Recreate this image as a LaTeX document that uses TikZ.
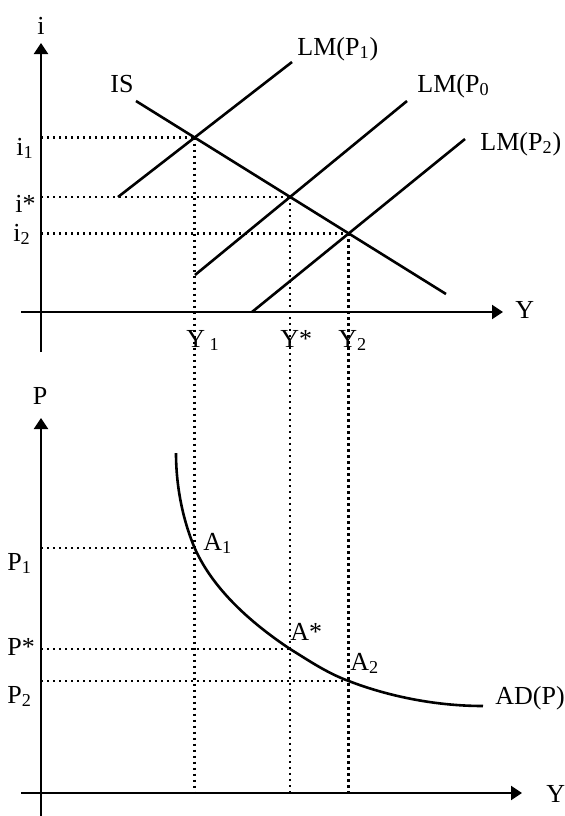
\documentclass[tikz,border=0pt]{standalone}
\usepackage{fontspec}
\setmainfont{Liberation Serif}
\usetikzlibrary{arrows.meta}
\begin{document}
\begin{tikzpicture}[x=0.5pt,y=-0.5pt,
  axisline/.style={line width=1.05pt,-{Triangle[length=5.5pt,width=7pt]}},
  curveline/.style={line width=1.3pt},
  guide/.style={line width=1.25pt,dash pattern=on 1.2pt off 1.8pt},
  lbl/.style={inner sep=0pt,anchor=base west,font=\fontsize{13}{15}\selectfont}]
\useasboundingbox (0,0) rectangle (565,816);
% ---------- coordinates, upper panel ----------
\coordinate (O1) at (41,312);
\coordinate (yb1) at (41,352);
\coordinate (yt1) at (41,43);
\coordinate (xl1) at (21,312);
\coordinate (xr1) at (503,312);
\coordinate (IS1) at (136,101);
\coordinate (IS2) at (446,294);
\coordinate (La1) at (118,197);
\coordinate (La2) at (292,62);
\coordinate (Lb1) at (195,275);
\coordinate (Lb2) at (407,101);
\coordinate (Lc1) at (252,312);
\coordinate (Lc2) at (465,139);
\coordinate (E1) at (intersection of IS1--IS2 and La1--La2);
\coordinate (E0) at (intersection of IS1--IS2 and Lb1--Lb2);
\coordinate (E2) at (intersection of IS1--IS2 and Lc1--Lc2);
% ---------- coordinates, lower panel ----------
\coordinate (O2) at (41,793);
\coordinate (yb2) at (41,816);
\coordinate (yt2) at (41,418);
\coordinate (xl2) at (21,793);
\coordinate (xr2) at (522,793);
\coordinate (h1) at (0,548);
\coordinate (h0) at (0,649);
\coordinate (h2) at (0,681);
\coordinate (A1) at (E1 |- h1);
\coordinate (As) at (E0 |- h0);
\coordinate (A2) at (E2 |- h2);
\coordinate (ADs) at (176,453);
\coordinate (ADe) at (483,706);
% ---------- guides ----------
\draw[guide] (E1 -| O1) -- (E1);
\draw[guide] (E0 -| O1) -- (E0);
\draw[guide] (E2 -| O1) -- (E2);
\draw[guide] (E1) -- (E1 |- O2);
\draw[guide] (E0) -- (E0 |- O2);
\draw[guide] (E2) -- (E2 |- O2);
\draw[guide] (A1 -| O2) -- (A1);
\draw[guide] (As -| O2) -- (As);
\draw[guide] (A2 -| O2) -- (A2);
% ---------- axes ----------
\draw[axisline] (yb1) -- (yt1);
\draw[axisline] (xl1) -- (xr1);
\draw[axisline] (yb2) -- (yt2);
\draw[axisline] (xl2) -- (xr2);
% ---------- curves ----------
\draw[curveline] (IS1) -- (IS2);
\draw[curveline] (La1) -- (La2);
\draw[curveline] (Lb1) -- (Lb2);
\draw[curveline] (Lc1) -- (Lc2);
\draw[curveline] (ADs) .. controls (176,485) and (182.3,518.7) .. (A1)
  .. controls (213.3,590.1) and (252.4,623.9) .. (As)
  .. controls (309.4,661) and (327.4,673.2) .. (A2)
  .. controls (385.4,695.2) and (433,706) .. (ADe);
% ---------- labels ----------
\node[lbl,anchor=base] (li) at (41,34) {i};
\node[lbl] (lYa) at (515,318) {Y};
\node[lbl] (lIS) at (110,92) {IS};
\node[lbl] (lLM1) at (297,55) {LM(P\textsubscript{1})};
\node[lbl] (lLM0) at (417,92) {LM(P\textsubscript{0}};
\node[lbl] (lLM2) at (480,150) {LM(P\textsubscript{2})};
\node[lbl] (li1) at (16,155) {i\textsubscript{1}};
\node[lbl] (lis) at (15,212) {i*};
\node[lbl] (li2) at (13,241) {i\textsubscript{2}};
\node[lbl] (lY1) at (186,347) {Y\,\textsubscript{1}};
\node[lbl] (lYs) at (280,347) {Y*};
\node[lbl] (lY2) at (338,347) {Y\textsubscript{2}};
\node[lbl,anchor=base] (lP) at (40,404) {P};
\node[lbl] (lYb) at (546,802) {Y};
\node[lbl] (lP1) at (7,570) {P\textsubscript{1}};
\node[lbl] (lPs) at (7,655) {P*};
\node[lbl] (lP2) at (7,703) {P\textsubscript{2}};
\node[lbl] (lA1) at (203,550) {A\textsubscript{1}};
\node[lbl] (lAs) at (290,640) {A*};
\node[lbl] (lA2) at (350,670) {A\textsubscript{2}};
\node[lbl] (lAD) at (495,704) {AD(P)};
\end{tikzpicture}
\end{document}
